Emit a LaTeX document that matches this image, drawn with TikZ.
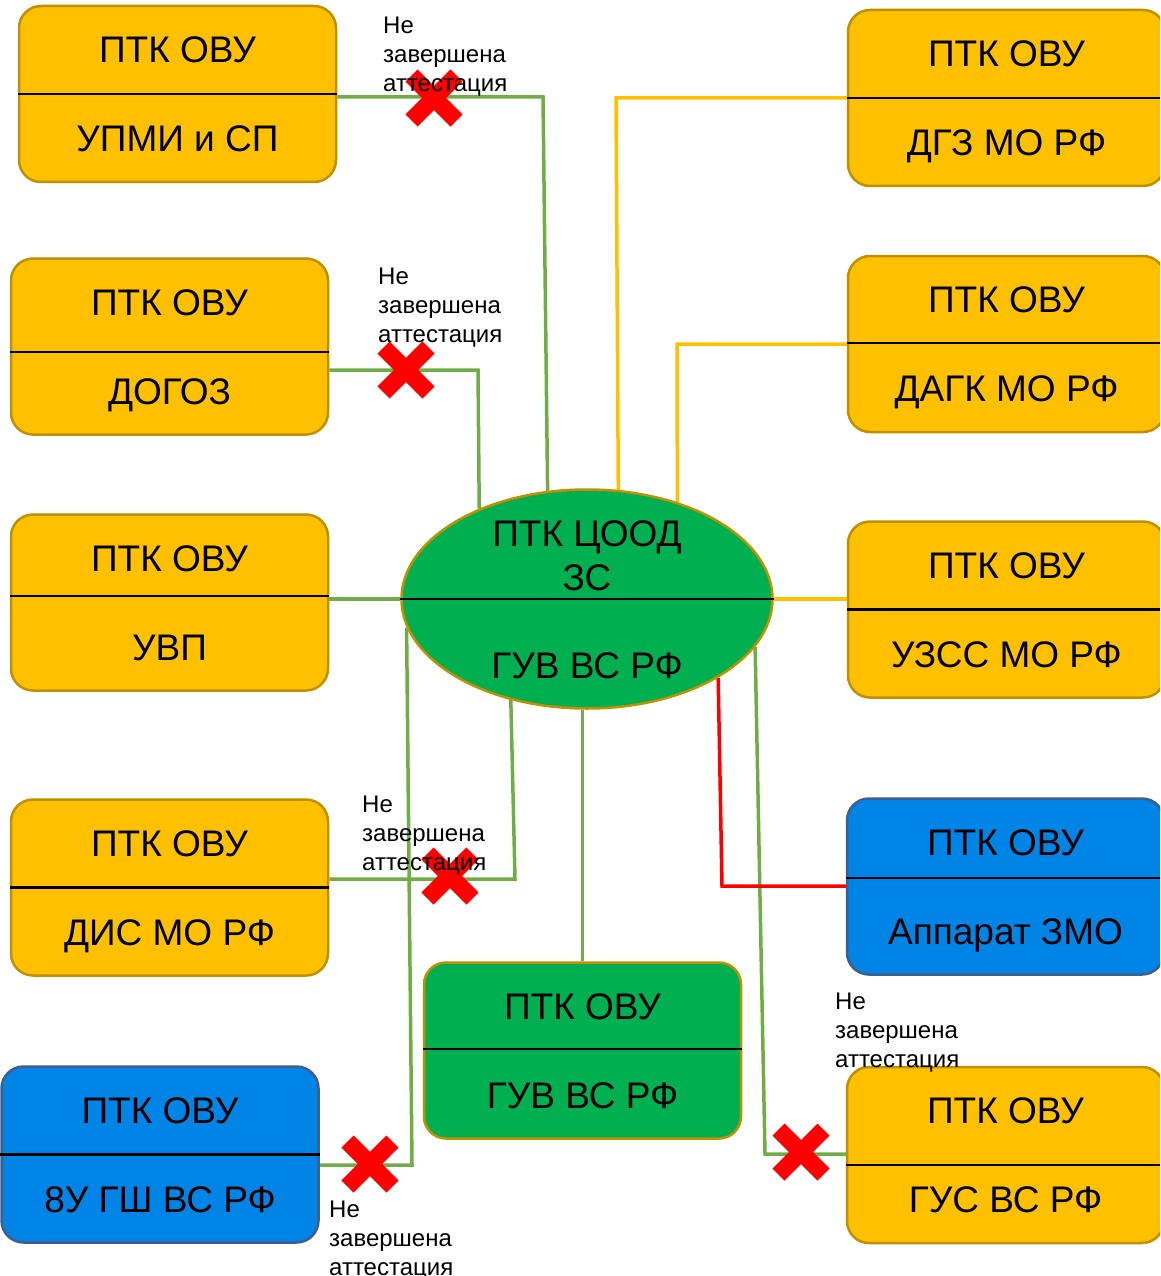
\documentclass[tikz,border=0pt]{standalone}
\usepackage{fontspec}
\setmainfont{Liberation Sans}
\usetikzlibrary{shapes.geometric,shapes.misc}
\pgfdeclarelayer{bg}
\pgfsetlayers{bg,main}
\definecolor{ovuyellow}{HTML}{FFC000}
\definecolor{ovugold}{HTML}{BF9000}
\definecolor{ovuazure}{HTML}{0084E6}
\definecolor{ovurim}{HTML}{3C5F8E}
\definecolor{ovugreen}{HTML}{00B050}
\definecolor{linkgreen}{HTML}{70AD47}
\tikzset{
    ovu/.style={rectangle, rounded corners=22pt, draw=ovugold, fill=ovuyellow, line width=2.5pt,
        minimum width=317pt, minimum height=176pt, inner sep=0pt, align=center,
        text height=115.5pt, text depth=0pt, font=\fontsize{37}{89}\selectfont},
    bluebox/.style={ovu, draw=ovurim, fill=ovuazure},
    greenbox/.style={ovu, fill=ovugreen},
    hub/.style={ellipse, draw=ovugold, fill=ovugreen, line width=2.5pt,
        minimum width=371pt, minimum height=219pt, inner sep=0pt, inner ysep=-2.5pt, align=center,
        text height=158.5pt, text depth=0pt, font=\fontsize{37}{44}\selectfont},
    split/.style={draw=black, line width=2.5pt},
    glink/.style={draw=linkgreen, line width=3.5pt},
    ylink/.style={draw=ovuyellow, line width=3.5pt},
    rlink/.style={draw=red, line width=3.5pt},
    fail/.style={cross out, draw=red, line width=17pt, minimum size=45pt, inner sep=0pt, outer sep=0pt},
    note/.style={align=left, anchor=north west, inner sep=0pt, font=\fontsize{24}{29}\selectfont}
}

\begin{document}
\begin{tikzpicture}[x=1pt, y=-1pt]
    \useasboundingbox (0, 0) rectangle (1160, 1276);
    \clip (0, 0) rectangle (1160, 1276);

    % left column
    \node (upmi) [ovu] at (177.5, 94) {ПТК ОВУ\\УПМИ и СП};
    \node (dogoz) [ovu] at (169.5, 346.5) {ПТК ОВУ\\ДОГОЗ};
    \node (uvp) [ovu] at (169.5, 602.5) {ПТК ОВУ\\УВП};
    \node (dis) [ovu] at (169.5, 887.5) {ПТК ОВУ\\ДИС МО РФ};
    \node (gsh) [bluebox] at (160, 1154.5) {ПТК ОВУ\\8У ГШ ВС РФ};

    % centre
    \node (cood) [hub] at (587, 599) {ПТК ЦООД\\ЗС\\[44pt]ГУВ ВС РФ};
    \node (guv) [greenbox] at (582.5, 1050.5) {ПТК ОВУ\\ГУВ ВС РФ};

    % right column
    \node (dgz) [ovu] at (1006.5, 98) {ПТК ОВУ\\ДГЗ МО РФ};
    \node (dagk) [ovu] at (1006.5, 344) {ПТК ОВУ\\ДАГК МО РФ};
    \node (uzss) [ovu] at (1006.5, 609.5) {ПТК ОВУ\\УЗСС МО РФ};
    \node (zmo) [bluebox] at (1005.5, 886.5) {ПТК ОВУ\\Аппарат ЗМО};
    \node (gus) [ovu] at (1005.5, 1155) {ПТК ОВУ\\ГУС ВС РФ};

    \draw[split] (upmi.west) -- (upmi.east);
    \draw[split] ([yshift=-5.5pt]dogoz.west) -- ([yshift=-5.5pt]dogoz.east);
    \draw[split] ([yshift=6.5pt]uvp.west) -- ([yshift=6.5pt]uvp.east);
    \draw[split] (dis.west) -- (dis.east);
    \draw[split] (gsh.west) -- (gsh.east);
    \draw[split] ([yshift=1.5pt]guv.west) -- ([yshift=1.5pt]guv.east);
    \draw[split] (cood.west) -- (cood.east);
    \draw[split] (dgz.west) -- (dgz.east);
    \draw[split] ([yshift=1pt]dagk.west) -- ([yshift=1pt]dagk.east);
    \draw[split] (uzss.west) -- (uzss.east);
    \draw[split] ([yshift=8.5pt]zmo.west) -- ([yshift=8.5pt]zmo.east);
    \draw[split] ([yshift=-10pt]gus.west) -- ([yshift=-10pt]gus.east);

    \coordinate (g1) at (543, 97);
    \coordinate (g2) at (478, 370);
    \coordinate (g4) at (515, 879);
    \coordinate (g5) at (412, 1165);
    \coordinate (g7) at (765, 1154);
    \coordinate (r1) at (722, 886);
    \coordinate (y1) at (616, 98);
    \coordinate (y2) at (677, 344);

    \begin{pgfonlayer}{bg}
        \draw[glink] (g1 -| upmi.east) -- (g1) -- (cood.110);
        \draw[glink] (g2 -| dogoz.east) -- (g2) -- (cood.140);
        \draw[glink] (cood.west) -- (cood.west -| uvp.east);
        \draw[glink] (g4 -| dis.east) -- (g4) -- (cood.233);
        \draw[glink] (g5 -| gsh.east) -- (g5) -- (cood.189);
        \draw[glink] (cood.south -| guv.north) -- (guv.north);
        \draw[glink] (cood.344) -- (g7) -- (g7 -| gus.west);
        \draw[rlink] (cood.329) -- (r1) -- (r1 -| zmo.west);
        \draw[ylink] (y1 -| dgz.west) -- (y1) -- (cood.74);
        \draw[ylink] (y2 -| dagk.west) -- (y2) -- (cood.47);
        \draw[ylink] (cood.east) -- (cood.east -| uzss.west);
    \end{pgfonlayer}

    \node (f1) [fail] at (434, 98) {};
    \node (f2) [fail] at (406, 370) {};
    \node (f3) [fail] at (450, 876) {};
    \node (f4) [fail] at (370, 1164) {};
    \node (f5) [fail] at (801, 1152) {};

    \node (n1) [note] at (383, 16.5) {Не\\завершена\\аттестация};
    \node (n2) [note] at (378, 267.5) {Не\\завершена\\аттестация};
    \node (n3) [note] at (362, 795.5) {Не\\завершена\\аттестация};
    \node (n4) [note] at (835, 992.5) {Не\\завершена\\аттестация};
    \node (n5) [note] at (329, 1200.5) {Не\\завершена\\аттестация};
\end{tikzpicture}
\end{document}
